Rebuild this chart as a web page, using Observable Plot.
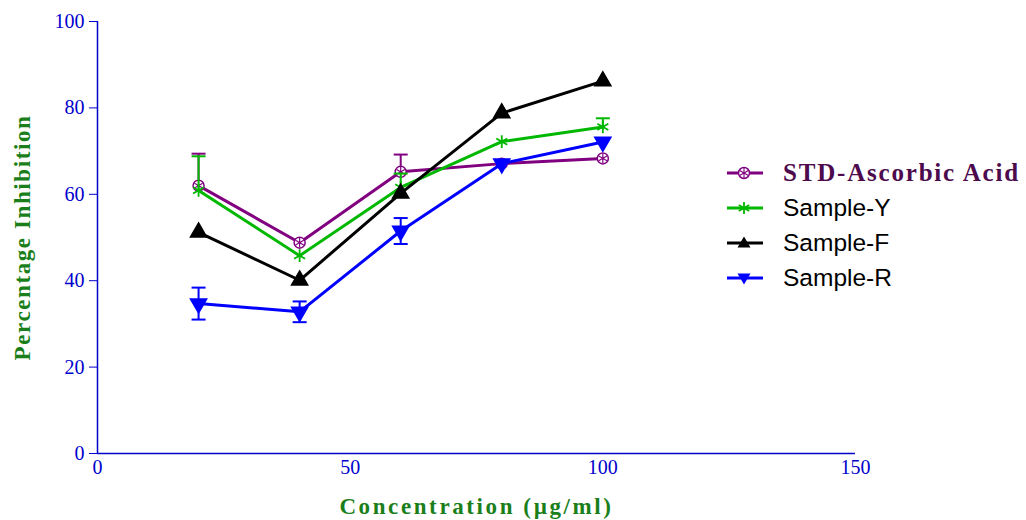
<!DOCTYPE html>
<html><head><meta charset="utf-8">
<script src="https://cdn.jsdelivr.net/npm/d3@7"></script>
<script src="https://cdn.jsdelivr.net/npm/@observablehq/plot@0.6"></script>
<style>
body{margin:0;background:#fff}
#wrap{position:relative;width:1026px;height:520px}
#legend{position:absolute;left:722px;top:155px}
.row{display:flex;align-items:center;height:35px}
.row svg{width:46px;height:20px;margin-right:15px}
.lab{font-family:"Liberation Sans",Arial,sans-serif;font-size:24.5px;color:#000;white-space:nowrap}
.lab.std{font-family:"Liberation Serif","Times New Roman",serif;font-weight:bold;color:#4d0a4d;font-size:25px;letter-spacing:1.8px}
</style></head><body><div id="wrap"><div id="legend"></div></div>
<script>
const concentrations = [20, 40, 60, 80, 100];
const seriesNames = ["STD-Ascorbic Acid", "Sample-Y", "Sample-F", "Sample-R"];
const stdValues = [62.0, 48.8, 65.2, 67.1, 68.3];
const stdErrors = [7.4, 0.5, 4.0, 0, 0];
const sampleYValues = [60.9, 45.8, 61.6, 72.2, 75.6];
const sampleYErrors = [7.9, 0.5, 3.2, 0.5, 2.0];
const sampleFValues = [51.2, 40.1, 60.2, 78.8, 86.2];
const sampleFErrors = [0, 0, 0, 0, 0];
const sampleRValues = [34.7, 32.8, 51.5, 67.1, 72.1];
const sampleRErrors = [3.7, 2.4, 3.0, 0.4, 0.5];
const xTicks = [0, 50, 100, 150];
const yTicks = [0, 20, 40, 60, 80, 100];
const xTitle = "Concentration (µg/ml)";
const yTitle = "Percentage Inhibition";

const seriesColors = ["#800080", "#00b800", "#000000", "#0000ff"];
const upperOnly = [true, true, false, false];
const allValues = [stdValues, sampleYValues, sampleFValues, sampleRValues];
const allErrors = [stdErrors, sampleYErrors, sampleFErrors, sampleRErrors];

const rows = [];
seriesNames.forEach((s, i) => concentrations.forEach((c, j) => rows.push({
  series: s, idx: i, x: c, y: allValues[i][j], err: allErrors[i][j],
  lo: upperOnly[i] ? allValues[i][j] : allValues[i][j] - allErrors[i][j],
  hi: allValues[i][j] + allErrors[i][j]
})));

const capSymbol = {draw(ctx, size){ ctx.moveTo(-7,0); ctx.lineTo(7,0); }};
const axisBlue = "#0000cc";
const titleGreen = "#1a7f1a";

const marks = [
  Plot.axisY({ticks: yTicks, tickSize: 8, tickPadding: 5, stroke: axisBlue, fill: axisBlue, fontSize: 20, label: null}),
  Plot.axisX({ticks: xTicks, tickSize: 0, tickPadding: 6, fill: axisBlue, fontSize: 20, label: null}),
  Plot.ruleX([0], {stroke: axisBlue, strokeWidth: 1.5}),
  Plot.ruleY([0], {stroke: axisBlue, strokeWidth: 1.5}),
  Plot.text([yTitle], {frameAnchor: "left", dx: -75, rotate: -90, textAnchor: "middle", fill: titleGreen, fontWeight: "bold", fontSize: 23, fontFamily: "Liberation Serif"}),
  Plot.text([xTitle], {frameAnchor: "bottom", dy: 60, textAnchor: "middle", fill: titleGreen, fontWeight: "bold", fontSize: 23, fontFamily: "Liberation Serif"})
];

seriesNames.forEach((s, i) => {
  const d = rows.filter(r => r.idx === i);
  const de = d.filter(r => r.err > 0.8);
  const col = seriesColors[i];
  marks.push(Plot.ruleX(de, {x: "x", y1: "lo", y2: "hi", stroke: col, strokeWidth: 2}));
  marks.push(Plot.dot(de, {x: "x", y: "hi", symbol: capSymbol, stroke: col, strokeWidth: 2}));
  if (!upperOnly[i]) marks.push(Plot.dot(de, {x: "x", y: "lo", symbol: capSymbol, stroke: col, strokeWidth: 2}));
  marks.push(Plot.line(d, {x: "x", y: "y", stroke: col, strokeWidth: 3}));
  if (i === 0) {
    marks.push(Plot.dot(d, {x: "x", y: "y", symbol: "circle", r: 5.5, fill: "white", stroke: col, strokeWidth: 1.5}));
    marks.push(Plot.dot(d, {x: "x", y: "y", symbol: "asterisk", r: 4.5, stroke: col, strokeWidth: 1.2}));
  } else if (i === 1) {
    marks.push(Plot.dot(d, {x: "x", y: "y", symbol: "asterisk", r: 6, stroke: col, strokeWidth: 1.8}));
  } else if (i === 2) {
    marks.push(Plot.dot(d, {x: "x", y: "y", symbol: "triangle", r: 6, fill: col, stroke: col}));
  } else {
    marks.push(Plot.dot(d, {x: "x", y: "y", symbol: "triangle", r: 6, rotate: 180, fill: col, stroke: col}));
  }
});

const chart = Plot.plot({
  width: 1026, height: 520,
  marginTop: 21, marginBottom: 67, marginLeft: 97, marginRight: 171,
  x: {domain: [0, 150], label: null},
  y: {domain: [0, 100], label: null},
  style: {fontFamily: "Liberation Serif", fontSize: "20px", background: "white", overflow: "visible"},
  marks
});
d3.select(chart).selectAll("text")
  .filter(function(){ return this.textContent === xTitle; }).style("letter-spacing", "2.6px");
d3.select(chart).selectAll("text")
  .filter(function(){ return this.textContent === yTitle; }).style("letter-spacing", "1.6px");
document.getElementById("wrap").prepend(chart);

// legend
const sym = [
  '<circle cx="19" cy="10" r="5.5" fill="white" stroke="#800080" stroke-width="1.5"/><path d="M19 4.5V15.5M14.2 7.2L23.8 12.8M14.2 12.8L23.8 7.2" stroke="#800080" stroke-width="1.1"/>',
  '<path d="M19 4V16M13.8 7L24.2 13M13.8 13L24.2 7" stroke="#00b800" stroke-width="1.8"/>',
  '<path d="M19 3.5L25.5 14.5H12.5Z" fill="#000"/>',
  '<path d="M19 16.5L25.5 5.5H12.5Z" fill="#0000ff"/>'
];
const leg = document.getElementById("legend");
seriesNames.forEach((s, i) => {
  const row = document.createElement("div");
  row.className = "row";
  row.innerHTML = '<svg viewBox="0 0 40 20" width="40" height="20"><line x1="2" y1="10" x2="38" y2="10" stroke="' + seriesColors[i] + '" stroke-width="3"/>' + sym[i] + '</svg><span class="lab' + (i === 0 ? ' std' : '') + '">' + s + '</span>';
  leg.appendChild(row);
});
</script></body></html>
